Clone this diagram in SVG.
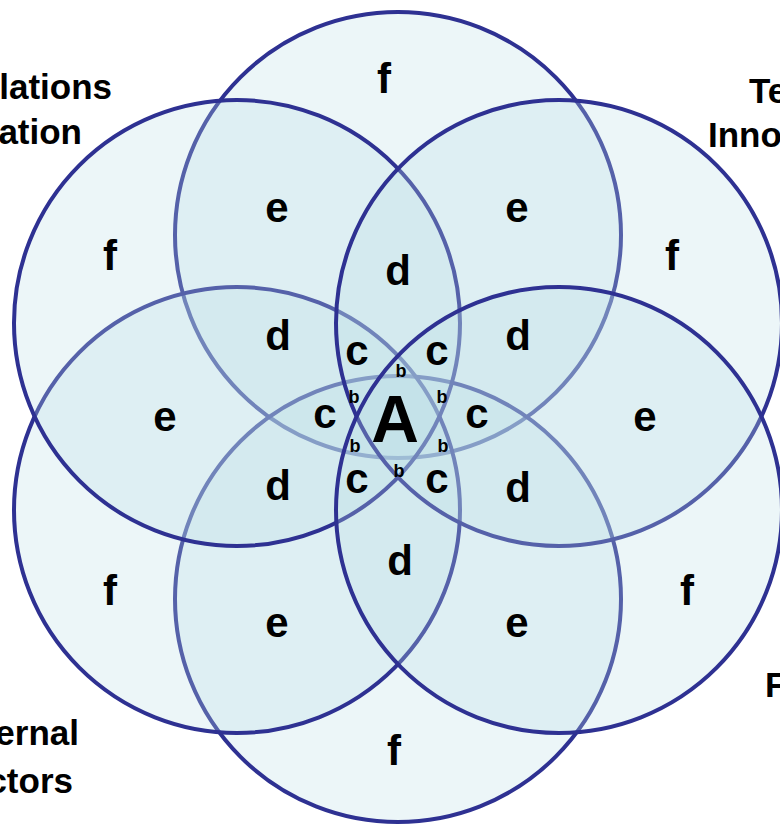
<svg xmlns="http://www.w3.org/2000/svg" width="780" height="827" viewBox="0 0 780 827">
<style>
.c{fill:rgb(187,222,229);fill-opacity:0.28;stroke:#2E3192;stroke-width:4}
.t{font-family:"Liberation Sans",Arial,sans-serif;font-weight:bold;fill:#000}
.m{font-size:42px;text-anchor:middle}
.b{font-size:18px;text-anchor:middle}
.g{font-size:35px}
</style>
<rect width="780" height="827" fill="#fff"/>
<g id="circles">
<g id="circle-top"><circle class="c" cx="398" cy="235" r="223"/></g>
<g id="circle-bottom"><circle class="c" cx="398" cy="599" r="223"/></g>
<g id="circle-lower-left"><circle class="c" cx="237" cy="510" r="223"/></g>
<g id="circle-upper-left"><circle class="c" cx="237" cy="323" r="223"/></g>
<g id="circle-upper-right"><circle class="c" cx="559" cy="323" r="223"/></g>
<g id="circle-lower-right"><circle class="c" cx="559" cy="510" r="223"/></g>
</g>
<g id="connectors"/>
<g id="region-labels" class="t">
<text class="m" x="384" y="93">f</text>
<text class="m" x="110" y="270">f</text>
<text class="m" x="672" y="270">f</text>
<text class="m" x="110" y="605">f</text>
<text class="m" x="687" y="605">f</text>
<text class="m" x="394" y="765">f</text>
<text class="m" x="277" y="222">e</text>
<text class="m" x="517" y="222">e</text>
<text class="m" x="165" y="431">e</text>
<text class="m" x="645" y="431">e</text>
<text class="m" x="277" y="637">e</text>
<text class="m" x="517" y="637">e</text>
<text class="m" x="398" y="285">d</text>
<text class="m" x="278" y="350">d</text>
<text class="m" x="518" y="350">d</text>
<text class="m" x="278" y="500">d</text>
<text class="m" x="518" y="502">d</text>
<text class="m" x="400" y="575">d</text>
<text class="m" x="357" y="365">c</text>
<text class="m" x="437" y="365">c</text>
<text class="m" x="325" y="428">c</text>
<text class="m" x="477" y="428">c</text>
<text class="m" x="357" y="493">c</text>
<text class="m" x="437" y="493">c</text>
<text class="b" x="401" y="377">b</text>
<text class="b" x="354" y="403">b</text>
<text class="b" x="442" y="403">b</text>
<text class="b" x="355" y="452">b</text>
<text class="b" x="443" y="452">b</text>
<text class="b" x="399" y="477">b</text>
<text x="395" y="442" style="font-size:66px;text-anchor:middle">A</text>
</g>
<g id="corner-labels" class="t g">
<text x="112" y="99" text-anchor="end">lations</text>
<text x="82" y="144" text-anchor="end">ation</text>
<text x="749" y="103">Te</text>
<text x="708" y="147">Inno</text>
<text x="765" y="697">F</text>
<text x="79" y="745" text-anchor="end">ernal</text>
<text x="73" y="793" text-anchor="end">ctors</text>
</g>
</svg>
